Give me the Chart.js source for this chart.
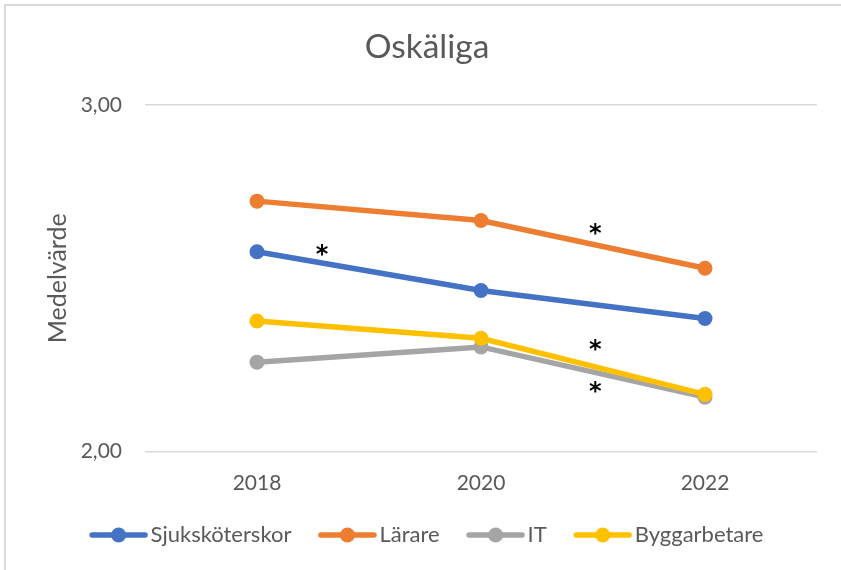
<!DOCTYPE html>
<html>
<head>
<meta charset="utf-8">
<script src="https://cdn.jsdelivr.net/npm/chart.js@4/dist/chart.umd.min.js"></script>
<style>
  html, body { margin: 0; padding: 0; background: #fff; }
  #wrap { width: 841px; height: 570px; }
</style>
</head>
<body>
<div id="wrap"><canvas id="chart" width="841" height="570"></canvas></div>
<script>
const years = ["2018", "2020", "2022"];
const sjukskoterskor = [2.577, 2.465, 2.384];
const larare = [2.723, 2.667, 2.529];
const it = [2.258, 2.302, 2.157];
const byggarbetare = [2.377, 2.327, 2.165];
const yTicks = [2, 3];
const yTitle = "Medelvärde";

// asterisks: position between years (category index) and value
const starX = [0.29, 1.51, 1.51, 1.51];
const starY = [2.578, 2.636, 2.302, 2.181];

const grey = "#595959";
const font = "Lato, 'Open Sans', sans-serif";

// line + dot marker, drawn off-centre so the gap before the text stays small
function legendMarker(color) {
    const c = document.createElement("canvas");
    c.width = 66;
    c.height = 16;
    const g = c.getContext("2d");
    g.strokeStyle = color;
    g.lineWidth = 5.5;
    g.lineCap = "round";
    g.beginPath();
    g.moveTo(10, 8);
    g.lineTo(63, 8);
    g.stroke();
    g.fillStyle = color;
    g.beginPath();
    g.arc(36.5, 8, 7.5, 0, Math.PI * 2);
    g.fill();
    return c;
}

function series(label, data, color, order) {
    return {
        label: label,
        data: data,
        borderColor: color,
        backgroundColor: color,
        borderWidth: 5.5,
        pointRadius: 7.5,
        pointHoverRadius: 7.5,
        pointBorderWidth: 0,
        tension: 0,
        order: order
    };
}

const frame = {
    id: "frame",
    beforeDraw(chart) {
        const ctx = chart.ctx;
        ctx.save();
        ctx.strokeStyle = "#d9d9d9";
        ctx.lineWidth = 2;
        ctx.beginPath();
        ctx.moveTo(5, 570);
        ctx.lineTo(5, 5);
        ctx.lineTo(841, 5);
        ctx.stroke();
        ctx.restore();
    }
};

// y axis title, rotated, centred on the plot area
const axisTitle = {
    id: "axisTitle",
    afterDraw(chart) {
        const ctx = chart.ctx;
        const area = chart.chartArea;
        ctx.save();
        ctx.translate(58, (area.top + area.bottom) / 2);
        ctx.rotate(-Math.PI / 2);
        ctx.fillStyle = grey;
        ctx.font = "25px " + font;
        ctx.textAlign = "center";
        ctx.textBaseline = "middle";
        ctx.fillText(yTitle, 0, 0);
        ctx.restore();
    }
};

const stars = {
    id: "stars",
    afterDatasetsDraw(chart) {
        const ctx = chart.ctx;
        const x = chart.scales.x;
        const y = chart.scales.y;
        ctx.save();
        ctx.fillStyle = "#000";
        ctx.font = "bold 24px 'DejaVu Sans', sans-serif";
        ctx.textAlign = "center";
        ctx.textBaseline = "middle";
        for (let i = 0; i < starX.length; i++) {
            ctx.fillText("*", x.getPixelForValue(starX[i]), y.getPixelForValue(starY[i]) + 4);
        }
        ctx.restore();
    }
};

new Chart(document.getElementById("chart"), {
    type: "line",
    data: {
        labels: years,
        datasets: [
            series("Sjuksköterskor", sjukskoterskor, "#4472C4", 3),
            series("Lärare", larare, "#ED7D31", 2),
            series("IT", it, "#A5A5A5", 1),
            series("Byggarbetare", byggarbetare, "#FFC000", 0)
        ]
    },
    options: {
        responsive: false,
        animation: false,
        layout: { padding: { left: 37, right: 24, top: 0, bottom: 14 } },
        plugins: {
            tooltip: { enabled: false },
            title: {
                display: true,
                text: "Oskäliga",
                color: grey,
                font: { family: font, size: 33.5, weight: "normal" },
                padding: { top: 27, bottom: 38 }
            },
            legend: {
                position: "bottom",
                labels: {
                    color: grey,
                    font: { family: font, size: 22 },
                    usePointStyle: true,
                    pointStyleWidth: 49,
                    boxHeight: 16,
                    padding: 28,
                    generateLabels(chart) {
                        return chart.data.datasets.map((ds, i) => ({
                            text: ds.label,
                            fillStyle: ds.borderColor,
                            strokeStyle: ds.borderColor,
                            lineWidth: 0,
                            pointStyle: legendMarker(ds.borderColor),
                            fontColor: grey,
                            hidden: false,
                            datasetIndex: i
                        }));
                    }
                }
            }
        },
        scales: {
            x: {
                offset: true,
                grid: { display: false, drawTicks: false },
                border: { display: false },
                ticks: { color: grey, font: { family: font, size: 21, lineHeight: 1.15 }, padding: 20 },
                afterFit(scale) { scale.height = 44.5; }
            },
            y: {
                min: 2,
                max: 3,
                afterBuildTicks(scale) { scale.ticks = yTicks.map(v => ({ value: v })); },
                grid: { color: "#d9d9d9", lineWidth: 1.5, drawTicks: false },
                border: { display: false },
                ticks: {
                    color: grey,
                    font: { family: font, size: 21 },
                    padding: 23,
                    callback: v => v.toFixed(2).replace(".", ",")
                },
                afterFit(scale) { scale.width = 108; }
            }
        }
    },
    plugins: [frame, stars, axisTitle]
});
</script>
</body>
</html>
